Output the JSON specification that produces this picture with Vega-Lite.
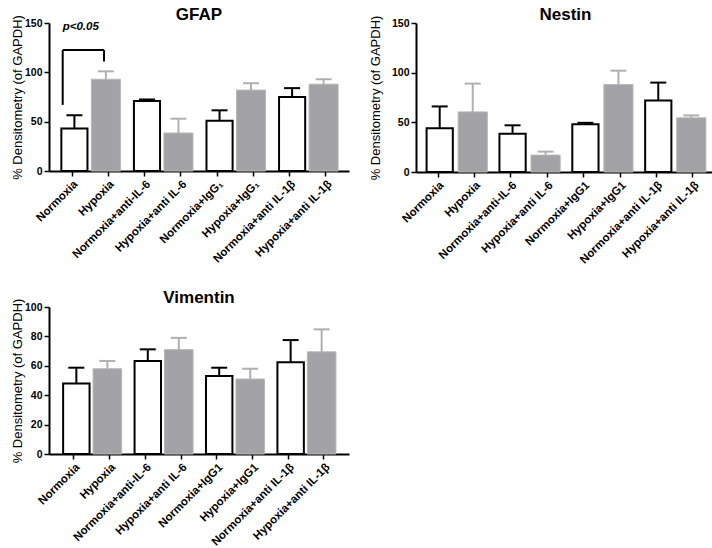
{
  "$schema": "https://vega.github.io/schema/vega-lite/v6.json",
  "padding": {"left": 11, "top": 5, "right": 0, "bottom": 0},
  "background": "#ffffff",
  "config": {
    "view": {"stroke": null},
    "font": "Liberation Sans",
    "axis": {
      "grid": false,
      "domainColor": "#000000",
      "domainWidth": 2,
      "tickColor": "#000000",
      "tickWidth": 1.5,
      "tickSize": 5,
      "labelFont": "Liberation Sans",
      "labelFontSize": 11.5,
      "labelFontWeight": "bold",
      "labelColor": "#000000",
      "labelPadding": 2,
      "titleFont": "Liberation Sans",
      "titleFontSize": 13,
      "titleFontWeight": "normal",
      "titleColor": "#000000",
      "titlePadding": 0
    },
    "axisY": {"labelFontSize": 10.5},
    "axisX": {"labelAngle": -45, "title": null},
    "title": {"font": "Liberation Sans", "fontSize": 17, "fontWeight": "bold", "color": "#000000", "offset": -9, "anchor": "middle"}
  },
  "datasets": {
    "gfap": [
      {"label": "Normoxia", "g": "N", "mean": 43, "upper": 56.5},
      {"label": "Hypoxia", "g": "H", "mean": 93, "upper": 101},
      {"label": "Normoxia+anti-IL-6", "g": "N", "mean": 71, "upper": 72.5},
      {"label": "Hypoxia+anti IL-6", "g": "H", "mean": 38.5, "upper": 53},
      {"label": "Normoxia+IgG₁", "g": "N", "mean": 51, "upper": 61.5},
      {"label": "Hypoxia+IgG₁", "g": "H", "mean": 82, "upper": 89},
      {"label": "Normoxia+anti IL-1β", "g": "N", "mean": 75, "upper": 84},
      {"label": "Hypoxia+anti IL-1β", "g": "H", "mean": 88, "upper": 93}
    ],
    "nestin": [
      {"label": "Normoxia", "g": "N", "mean": 44, "upper": 66},
      {"label": "Hypoxia", "g": "H", "mean": 60.5, "upper": 89},
      {"label": "Normoxia+anti-IL-6", "g": "N", "mean": 38.5, "upper": 47},
      {"label": "Hypoxia+anti IL-6", "g": "H", "mean": 17, "upper": 20.5},
      {"label": "Normoxia+IgG1", "g": "N", "mean": 48, "upper": 49.5},
      {"label": "Hypoxia+IgG1", "g": "H", "mean": 88, "upper": 102},
      {"label": "Normoxia+anti IL-1β", "g": "N", "mean": 72, "upper": 90},
      {"label": "Hypoxia+anti IL-1β", "g": "H", "mean": 54.5, "upper": 57}
    ],
    "vimentin": [
      {"label": "Normoxia", "g": "N", "mean": 48, "upper": 58.7},
      {"label": "Hypoxia", "g": "H", "mean": 58, "upper": 63.3},
      {"label": "Normoxia+anti-IL-6", "g": "N", "mean": 63.3, "upper": 71.2},
      {"label": "Hypoxia+anti IL-6", "g": "H", "mean": 71, "upper": 79},
      {"label": "Normoxia+IgG1", "g": "N", "mean": 53, "upper": 58.7},
      {"label": "Hypoxia+IgG1", "g": "H", "mean": 51, "upper": 58},
      {"label": "Normoxia+anti IL-1β", "g": "N", "mean": 62.5, "upper": 77.5},
      {"label": "Hypoxia+anti IL-1β", "g": "H", "mean": 69.5, "upper": 84.8}
    ],
    "bracket": [
      {"a": "Normoxia", "b": "Hypoxia", "top": 122.6, "lend": 67, "rend": 111, "txt": "p<0.05", "ty": 146}
    ]
  },
  "vconcat": [
    {
      "hconcat": [
        {
          "title": "GFAP",
          "width": 300,
          "height": 148,
          "data": {"name": "gfap"},
          "encoding": {
            "x": {"field": "label", "type": "nominal", "title": null,
                  "scale": {"domain": ["Normoxia", "Hypoxia", "Normoxia+anti-IL-6", "Hypoxia+anti IL-6", "Normoxia+IgG₁", "Hypoxia+IgG₁", "Normoxia+anti IL-1β", "Hypoxia+anti IL-1β"], "paddingInner": 0, "paddingOuter": 0.134}},
            "y": {"field": "mean", "type": "quantitative", "title": "% Densitometry (of GAPDH)",
                  "scale": {"domain": [0, 150], "nice": false}, "axis": {"values": [0, 50, 100, 150]}}
          },
          "layer": [
            {"transform": [{"filter": "datum.g === 'N'"}], "mark": {"type": "bar", "fill": "#ffffff", "stroke": "#000000", "strokeWidth": 2, "width": {"band": 0.72}, "xOffset": 2.4}},
            {"transform": [{"filter": "datum.g === 'H'"}], "mark": {"type": "bar", "fill": "#a3a3a7", "stroke": "#b6b6b8", "strokeWidth": 1, "width": {"band": 0.8}, "xOffset": -2.4}},
            {"transform": [{"filter": "datum.g === 'N'"}], "mark": {"type": "rule", "color": "#000000", "strokeWidth": 2, "xOffset": 2.4}, "encoding": {"y2": {"field": "upper"}}},
            {"transform": [{"filter": "datum.g === 'N'"}], "mark": {"type": "tick", "orient": "horizontal", "color": "#000000", "thickness": 2, "size": 16, "xOffset": 2.4, "opacity": 1},
             "encoding": {"y": {"field": "upper", "type": "quantitative", "title": "% Densitometry (of GAPDH)"}}},
            {"transform": [{"filter": "datum.g === 'H'"}], "mark": {"type": "rule", "color": "#b0b0b2", "strokeWidth": 2, "xOffset": -2.4}, "encoding": {"y2": {"field": "upper"}}},
            {"transform": [{"filter": "datum.g === 'H'"}], "mark": {"type": "tick", "orient": "horizontal", "color": "#b0b0b2", "thickness": 2, "size": 16, "xOffset": -2.4, "opacity": 1},
             "encoding": {"y": {"field": "upper", "type": "quantitative", "title": "% Densitometry (of GAPDH)"}}},
            {"data": {"name": "bracket"}, "mark": {"type": "rule", "color": "#000000", "strokeWidth": 2, "xOffset": -9.3, "x2Offset": -4.3},
             "encoding": {"x": {"field": "a", "type": "nominal", "title": null}, "x2": {"field": "b"}, "y": {"field": "top", "type": "quantitative", "title": "% Densitometry (of GAPDH)"}}},
            {"data": {"name": "bracket"}, "mark": {"type": "rule", "color": "#000000", "strokeWidth": 2, "xOffset": -9.3},
             "encoding": {"x": {"field": "a", "type": "nominal", "title": null}, "y": {"field": "top", "type": "quantitative", "title": "% Densitometry (of GAPDH)"}, "y2": {"field": "lend"}}},
            {"data": {"name": "bracket"}, "mark": {"type": "rule", "color": "#000000", "strokeWidth": 2, "xOffset": -4.3},
             "encoding": {"x": {"field": "b", "type": "nominal", "title": null}, "y": {"field": "top", "type": "quantitative", "title": "% Densitometry (of GAPDH)"}, "y2": {"field": "rend"}}},
            {"data": {"name": "bracket"}, "mark": {"type": "text", "align": "left", "baseline": "middle", "fontSize": 11.5, "fontWeight": "bold", "fontStyle": "italic", "color": "#000000", "xOffset": -9.3},
             "encoding": {"x": {"field": "a", "type": "nominal", "title": null}, "y": {"field": "ty", "type": "quantitative", "title": "% Densitometry (of GAPDH)"}, "text": {"field": "txt"}}}
          ]
        },
        {
          "title": "Nestin",
          "width": 299,
          "height": 149,
          "data": {"name": "nestin"},
          "encoding": {
            "x": {"field": "label", "type": "nominal", "title": null,
                  "scale": {"domain": ["Normoxia", "Hypoxia", "Normoxia+anti-IL-6", "Hypoxia+anti IL-6", "Normoxia+IgG1", "Hypoxia+IgG1", "Normoxia+anti IL-1β", "Hypoxia+anti IL-1β"], "paddingInner": 0, "paddingOuter": 0.104}},
            "y": {"field": "mean", "type": "quantitative", "title": "% Densitometry (of GAPDH)",
                  "scale": {"domain": [0, 150], "nice": false}, "axis": {"values": [0, 50, 100, 150], "titlePadding": 9}}
          },
          "layer": [
            {"transform": [{"filter": "datum.g === 'N'"}], "mark": {"type": "bar", "fill": "#ffffff", "stroke": "#000000", "strokeWidth": 2, "width": {"band": 0.72}, "xOffset": 1.7}},
            {"transform": [{"filter": "datum.g === 'H'"}], "mark": {"type": "bar", "fill": "#a3a3a7", "stroke": "#b6b6b8", "strokeWidth": 1, "width": {"band": 0.8}, "xOffset": -1.7}},
            {"transform": [{"filter": "datum.g === 'N'"}], "mark": {"type": "rule", "color": "#000000", "strokeWidth": 2, "xOffset": 1.7}, "encoding": {"y2": {"field": "upper"}}},
            {"transform": [{"filter": "datum.g === 'N'"}], "mark": {"type": "tick", "orient": "horizontal", "color": "#000000", "thickness": 2, "size": 16, "xOffset": 1.7, "opacity": 1},
             "encoding": {"y": {"field": "upper", "type": "quantitative", "title": "% Densitometry (of GAPDH)"}}},
            {"transform": [{"filter": "datum.g === 'H'"}], "mark": {"type": "rule", "color": "#b0b0b2", "strokeWidth": 2, "xOffset": -1.7}, "encoding": {"y2": {"field": "upper"}}},
            {"transform": [{"filter": "datum.g === 'H'"}], "mark": {"type": "tick", "orient": "horizontal", "color": "#b0b0b2", "thickness": 2, "size": 16, "xOffset": -1.7, "opacity": 1},
             "encoding": {"y": {"field": "upper", "type": "quantitative", "title": "% Densitometry (of GAPDH)"}}}
          ]
        }
      ],
      "spacing": 20
    },
    {
      "title": "Vimentin",
      "width": 300,
      "height": 147,
      "data": {"name": "vimentin"},
      "encoding": {
        "x": {"field": "label", "type": "nominal", "title": null,
              "scale": {"domain": ["Normoxia", "Hypoxia", "Normoxia+anti-IL-6", "Hypoxia+anti IL-6", "Normoxia+IgG1", "Hypoxia+IgG1", "Normoxia+anti IL-1β", "Hypoxia+anti IL-1β"], "paddingInner": 0, "paddingOuter": 0.2}},
        "y": {"field": "mean", "type": "quantitative", "title": "% Densitometry (of GAPDH)",
              "scale": {"domain": [0, 100], "nice": false}, "axis": {"values": [0, 20, 40, 60, 80, 100]}}
      },
      "layer": [
        {"transform": [{"filter": "datum.g === 'N'"}], "mark": {"type": "bar", "fill": "#ffffff", "stroke": "#000000", "strokeWidth": 2, "width": {"band": 0.74}, "xOffset": 2.35}},
        {"transform": [{"filter": "datum.g === 'H'"}], "mark": {"type": "bar", "fill": "#a3a3a7", "stroke": "#b6b6b8", "strokeWidth": 1, "width": {"band": 0.8}, "xOffset": -2.35}},
        {"transform": [{"filter": "datum.g === 'N'"}], "mark": {"type": "rule", "color": "#000000", "strokeWidth": 2, "xOffset": 2.35}, "encoding": {"y2": {"field": "upper"}}},
        {"transform": [{"filter": "datum.g === 'N'"}], "mark": {"type": "tick", "orient": "horizontal", "color": "#000000", "thickness": 2, "size": 16, "xOffset": 2.35, "opacity": 1},
         "encoding": {"y": {"field": "upper", "type": "quantitative", "title": "% Densitometry (of GAPDH)"}}},
        {"transform": [{"filter": "datum.g === 'H'"}], "mark": {"type": "rule", "color": "#b0b0b2", "strokeWidth": 2, "xOffset": -2.35}, "encoding": {"y2": {"field": "upper"}}},
        {"transform": [{"filter": "datum.g === 'H'"}], "mark": {"type": "tick", "orient": "horizontal", "color": "#b0b0b2", "thickness": 2, "size": 16, "xOffset": -2.35, "opacity": 1},
         "encoding": {"y": {"field": "upper", "type": "quantitative", "title": "% Densitometry (of GAPDH)"}}}
      ]
    }
  ],
  "spacing": 23
}
